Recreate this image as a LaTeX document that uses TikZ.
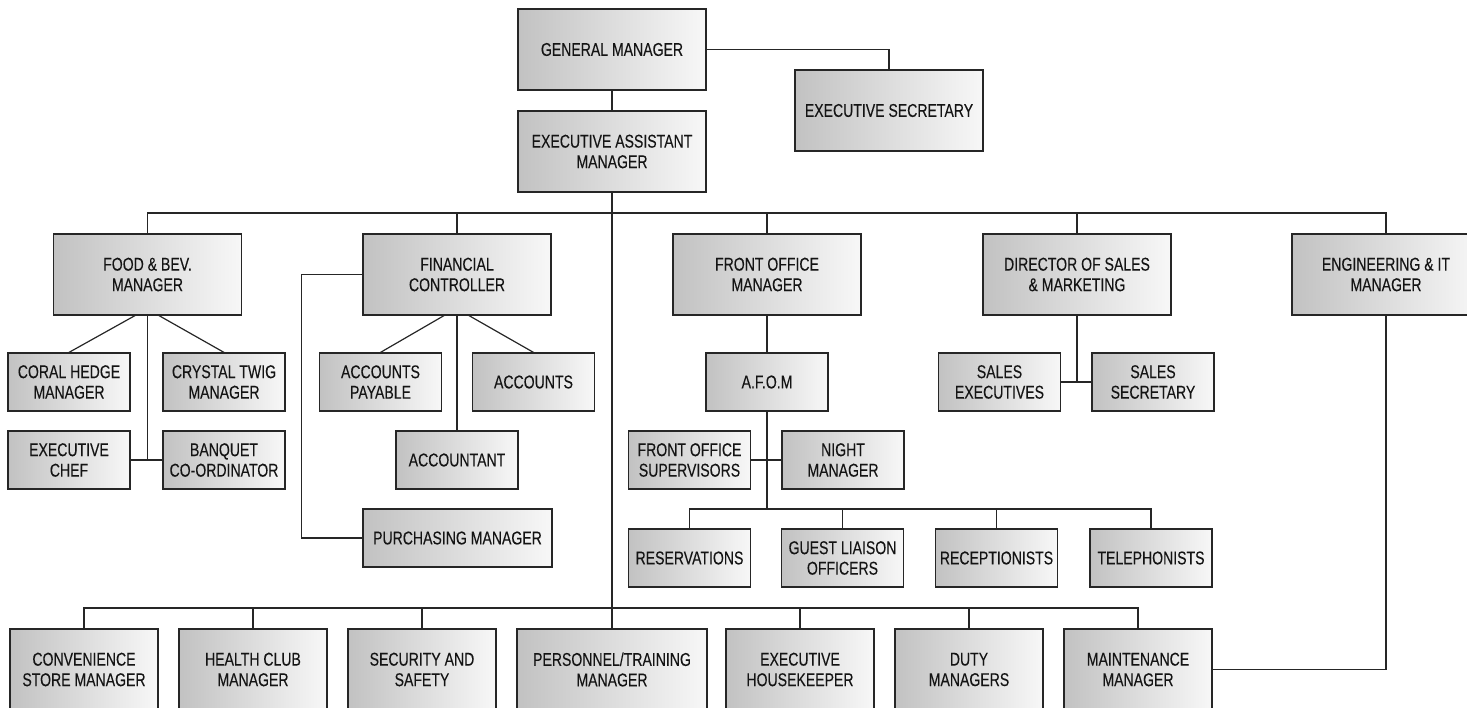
\documentclass[tikz,border=0pt]{standalone}
\usepackage{fontspec}
\setmainfont{Liberation Sans}[FakeStretch=0.76, FakeBold=0.12]
\usetikzlibrary{calc}

\tikzset{
  unit/.style={draw=black!85, line width=1.2pt, left color=black!24, right color=black!3,
    align=center, inner sep=2pt, text=black!92,
    font=\fontsize{18.5}{20.5}\selectfont},
  bigbox/.style={unit, minimum width=188pt, minimum height=81pt},
  smallbox/.style={unit, minimum width=122pt, minimum height=58pt},
  basebox/.style={unit, minimum width=148pt, minimum height=81pt},
  link/.style={draw=black!85, line width=1.2pt}
}

\begin{document}
\begin{tikzpicture}[x=1pt, y=-1pt]
\useasboundingbox (0,0) rectangle (1467,708);
\clip (0,0) rectangle (1467,708);

% top management
\node[bigbox] (gm)  at (612,49.5)  {GENERAL MANAGER};
\node[bigbox] (es)  at (889,110.5) {EXECUTIVE SECRETARY};
\node[bigbox] (eam) at (612,151.5) {EXECUTIVE ASSISTANT\\MANAGER};

% department heads
\node[bigbox] (fb)  at (147.5,274.5) {FOOD \& BEV.\\MANAGER};
\node[bigbox] (fc)  at (457,274.5)   {FINANCIAL\\CONTROLLER};
\node[bigbox] (fo)  at (767,274.5)   {FRONT OFFICE\\MANAGER};
\node[bigbox] (ds)  at (1077,274.5)  {DIRECTOR OF SALES\\\& MARKETING};
\node[bigbox] (eng) at (1386,274.5)  {ENGINEERING \& IT\\MANAGER};

% food and beverage
\node[smallbox] (ch) at (69,382)  {CORAL HEDGE\\MANAGER};
\node[smallbox] (ct) at (224,382) {CRYSTAL TWIG\\MANAGER};
\node[smallbox] (ec) at (69,460)  {EXECUTIVE\\CHEF};
\node[smallbox] (bq) at (224,460) {BANQUET\\CO-ORDINATOR};

% finance
\node[smallbox] (ap)   at (380.5,382) {ACCOUNTS\\PAYABLE};
\node[smallbox] (acc)  at (533.5,382) {ACCOUNTS};
\node[smallbox] (acct) at (457,460)   {ACCOUNTANT};
\node[smallbox, minimum width=189pt] (pm) at (457.5,538) {PURCHASING MANAGER};

% front office
\node[smallbox] (afom) at (767,382)   {A.F.O.M};
\node[smallbox] (fos)  at (689.5,460) {FRONT OFFICE\\SUPERVISORS};
\node[smallbox] (nm)   at (843,460)   {NIGHT\\MANAGER};
\node[smallbox] (res)  at (689.5,558) {RESERVATIONS};
\node[smallbox] (gl)   at (842.5,558) {GUEST LIAISON\\OFFICERS};
\node[smallbox] (rec)  at (996.5,558) {RECEPTIONISTS};
\node[smallbox] (tel)  at (1151,558)  {TELEPHONISTS};

% sales
\node[smallbox] (se) at (999.5,382) {SALES\\EXECUTIVES};
\node[smallbox] (ss) at (1153,382)  {SALES\\SECRETARY};

% bottom row
\node[basebox] (cs)  at (84,669.5)   {CONVENIENCE\\STORE MANAGER};
\node[basebox] (hc)  at (253,669.5)  {HEALTH CLUB\\MANAGER};
\node[basebox] (sec) at (422,669.5)  {SECURITY AND\\SAFETY};
\node[basebox, minimum width=190pt] (pt) at (612,669.5) {PERSONNEL/TRAINING\\MANAGER};
\node[basebox] (hk)  at (800,669.5)  {EXECUTIVE\\HOUSEKEEPER};
\node[basebox] (dm)  at (969,669.5)  {DUTY\\MANAGERS};
\node[basebox] (mm)  at (1138,669.5) {MAINTENANCE\\MANAGER};

% bus lines
\coordinate (topbar) at (612,213);
\coordinate (lowbar) at (612,608);
\coordinate (fobar)  at (767,509);

% top management links
\draw[link] (gm.east) -| (es.north);
\draw[link] (gm.south) -- (eam.north);
\draw[link] (eam.south) -- (pt.north);

% department bus
\draw[link] (fb.north) |- (topbar) -| (eng.north);
\draw[link] (fc.north) -- (fc.north |- topbar);
\draw[link] (fo.north) -- (fo.north |- topbar);
\draw[link] (ds.north) -- (ds.north |- topbar);

% food and beverage links
\draw[link] ($(fb.south)+(-12.5,0)$) -- (ch.north);
\draw[link] ($(fb.south)+(11.5,0)$) -- (ct.north);
\draw[link] (fb.south) -- (fb.south |- ec.east);
\draw[link] (ec.east) -- (bq.west);

% finance links
\draw[link] ($(fc.south)+(-13,0)$) -- (ap.north);
\draw[link] ($(fc.south)+(12,0)$) -- (acc.north);
\draw[link] (fc.south) -- (acct.north);
\draw[link] (fc.west) -- ++(-61,0) |- (pm.west);

% front office links
\draw[link] (fo.south) -- (afom.north);
\draw[link] (afom.south) -- (fobar);
\draw[link] (fos.east) -- (nm.west);
\draw[link] (res.north) |- (fobar) -| (tel.north);
\draw[link] (gl.north) -- (gl.north |- fobar);
\draw[link] (rec.north) -- (rec.north |- fobar);

% sales links
\draw[link] (ds.south) -- (ds.south |- se.east);
\draw[link] (se.east) -- (ss.west);

% engineering to maintenance
\draw[link] (eng.south) |- (mm.east);

% lower bus
\draw[link] (cs.north) |- (lowbar) -| (mm.north);
\draw[link] (hc.north) -- (hc.north |- lowbar);
\draw[link] (sec.north) -- (sec.north |- lowbar);
\draw[link] (hk.north) -- (hk.north |- lowbar);
\draw[link] (dm.north) -- (dm.north |- lowbar);
\end{tikzpicture}
\end{document}
